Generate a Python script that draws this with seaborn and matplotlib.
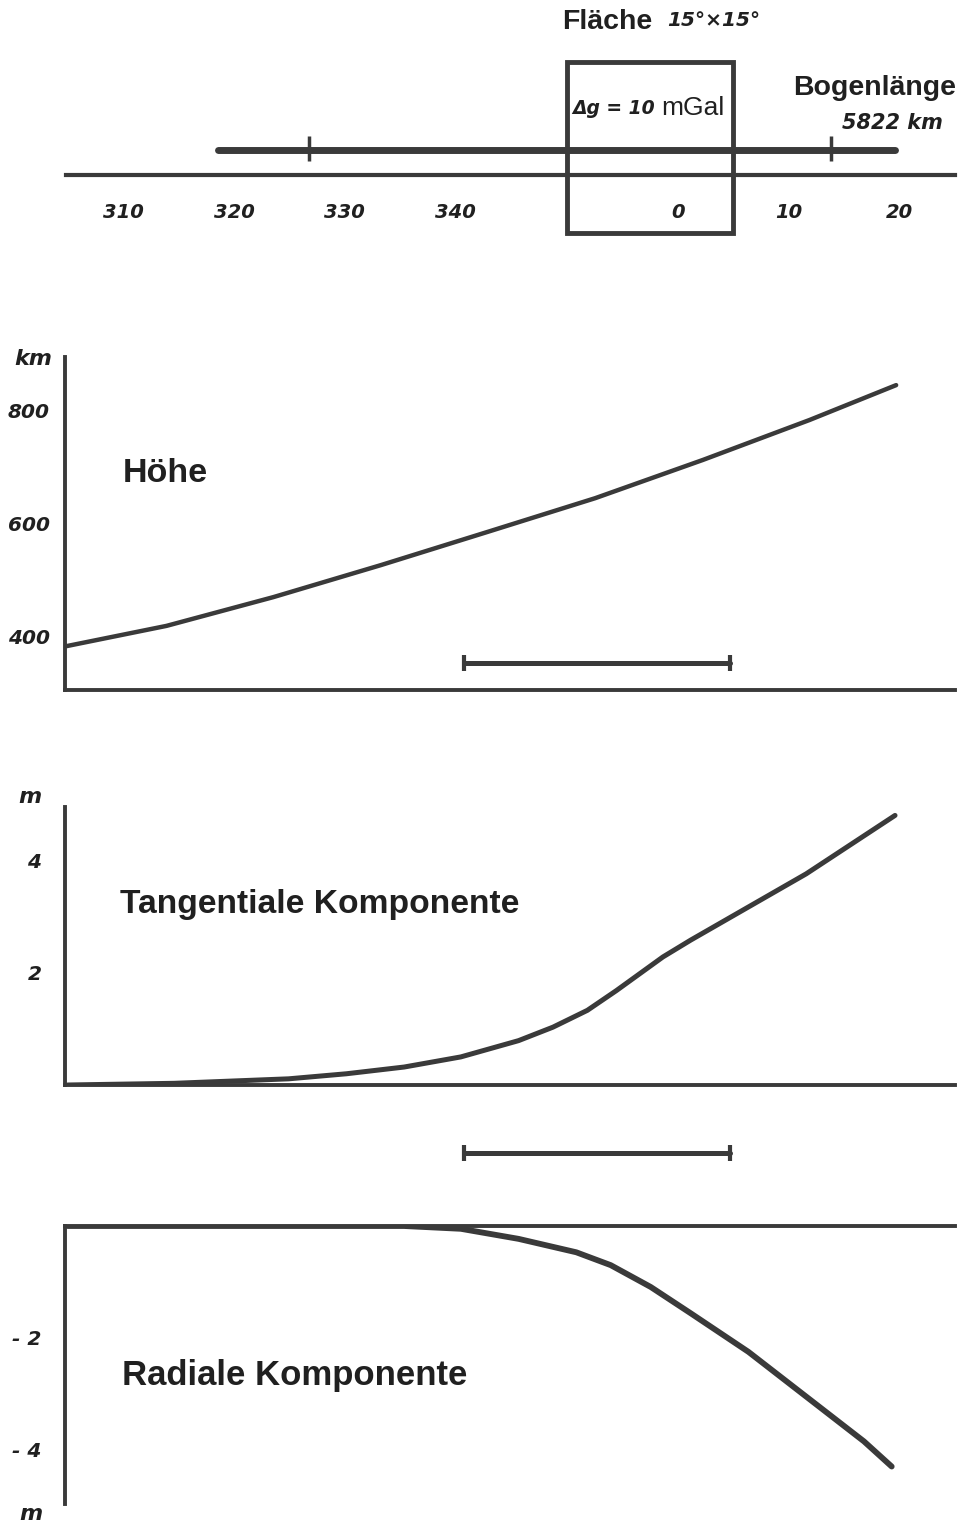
import matplotlib
matplotlib.use("Agg")
import matplotlib.pyplot as plt
from matplotlib.patches import Rectangle
import seaborn as sns

# ---- data -------------------------------------------------------------
# longitude in degrees, counted on past 360 so that 0..20 E follow 340..359
lon_hoehe = [305.0, 314.0, 323.6, 333.3, 342.9, 352.6, 362.3, 371.9, 379.7]
hoehe_km = [382, 418, 469, 526, 585, 645, 713, 784, 846]

lon_tang = [305.1, 314.7, 325.0, 330.2, 335.4, 340.5, 345.7, 348.8, 351.9,
            354.5, 358.7, 361.2, 366.4, 371.6, 379.6]
tang_m = [0.00, 0.03, 0.11, 0.20, 0.32, 0.50, 0.79, 1.03, 1.33,
          1.68, 2.28, 2.58, 3.17, 3.76, 4.80]

lon_rad = [305.1, 320.0, 335.4, 340.5, 345.7, 350.9, 354.0, 357.6, 361.2,
           366.4, 371.6, 376.8, 379.3]
rad_m = [0.00, 0.00, 0.00, -0.05, -0.23, -0.47, -0.70, -1.09, -1.56,
         -2.25, -3.05, -3.85, -4.30]

lon_ticks = [310, 320, 330, 340, 360, 370, 380]
lon_tick_labels = ["310", "320", "330", "340", "0", "10", "20"]

flaeche_lon = (350, 365)          # 15 deg x 15 deg block, 350 .. 5
bogen_lon = (318.6, 379.6)        # arc of the profile
bogen_marks = [326.8, 373.8]
scale_bar_lon = (340.8, 364.7)

hoehe_ticks = [400, 600, 800]
tang_ticks = [2, 4]
rad_ticks = [-2, -4]
rad_tick_labels = ["- 2", "- 4"]

# ---- style ------------------------------------------------------------
sns.set_style("white")
plt.rcParams["font.family"] = ["DejaVu Sans"]

INK = "#3a3a3a"
TXT = "#202020"
W, H = 965, 1526
XLIM = (304.86, 385.0)

HAND = dict(family="DejaVu Sans", fontweight="bold", fontstyle="italic", color=TXT)
SANS = dict(family="Liberation Sans", fontweight="bold", color=TXT)

fig = plt.figure(figsize=(W / 100, H / 100), dpi=100)
fig.patch.set_facecolor("white")


def px_axes(left, top, right, bottom):
    ax = fig.add_axes([left / W, 1 - bottom / H, (right - left) / W, (bottom - top) / H])
    ax.set_facecolor("none")
    return ax


def px_text(x, y, s, **kw):
    fig.text(x / W, 1 - y / H, s, **kw)


# ---- top strip: longitude axis with the anomalous block ----------------
ax0 = px_axes(66, 0, 955, 250)
ax0.set_xlim(*XLIM)
ax0.set_ylim(250, 0)
for side in ("left", "right", "top"):
    ax0.spines[side].set_visible(False)
ax0.spines["bottom"].set_position(("data", 175))
ax0.spines["bottom"].set_linewidth(3.0)
ax0.spines["bottom"].set_color(INK)
ax0.set_yticks([])
ax0.set_xticks(lon_ticks, lon_tick_labels, fontsize=14, **HAND)
ax0.tick_params(axis="x", direction="out", length=6, width=2.2, color=INK, pad=14)

ax0.add_patch(Rectangle((flaeche_lon[0], 62), flaeche_lon[1] - flaeche_lon[0], 171,
                        fill=False, edgecolor=INK, linewidth=3.5, clip_on=False))
ax0.plot(bogen_lon, [150, 150], color=INK, lw=5, solid_capstyle="round", clip_on=False)
ax0.plot(bogen_marks, [148, 148], ls="", marker="|", ms=18, mew=2.5, color=INK, clip_on=False)

px_text(562, 22, "Fläche", fontsize=20.5, ha="left", va="center", **SANS)
px_text(667, 20, "15°×15°", fontsize=14.5, ha="left", va="center", **HAND)
px_text(572, 108, "Δg = 10", fontsize=13.5, ha="left", va="center", **HAND)
px_text(661, 108, "mGal", fontsize=19, ha="left", va="center",
        family="Liberation Sans", color=TXT)
px_text(793, 88, "Bogenlänge", fontsize=20.5, ha="left", va="center", **SANS)
px_text(842, 123, "5822 km", fontsize=15, ha="left", va="center", **HAND)


def style_panel(ax, ylim, ticks, labels, show, pad):
    ax.set_xlim(*XLIM)
    ax.set_ylim(*ylim)
    for side in ("left", "right", "top", "bottom"):
        ax.spines[side].set_visible(side in show)
        ax.spines[side].set_linewidth(2.8)
        ax.spines[side].set_color(INK)
    ax.set_xticks([])
    ax.set_yticks(ticks, labels, fontsize=14.5, **HAND)
    ax.tick_params(axis="y", direction="out", length=6, width=2, color=INK, pad=pad)
    ax.set_xlabel("")
    ax.set_ylabel("")


# ---- Höhe ----------------------------------------------------------------
ax1 = px_axes(65, 357, 955, 690)
sns.lineplot(x=lon_hoehe, y=hoehe_km, ax=ax1, color=INK, lw=3.2)
style_panel(ax1, (304, 896), hoehe_ticks, [str(t) for t in hoehe_ticks],
            ("left", "bottom"), pad=5)
ax1.plot(scale_bar_lon, [0.08, 0.08], transform=ax1.get_xaxis_transform(), color=INK,
         lw=3.6, marker="|", ms=11, mew=3, clip_on=False)
px_text(33, 359, "km", fontsize=16, ha="center", va="center", **HAND)
px_text(123, 473, "Höhe", fontsize=24.5, ha="left", va="center", **SANS)

# ---- tangentiale Komponente -------------------------------------------
ax2 = px_axes(65, 807, 955, 1085)
sns.lineplot(x=lon_tang, y=tang_m, ax=ax2, color=INK, lw=3.6)
style_panel(ax2, (0, 4.95), tang_ticks, [str(t) for t in tang_ticks],
            ("left", "bottom"), pad=11)
ax2.plot(scale_bar_lon, [-0.245, -0.245], transform=ax2.get_xaxis_transform(), color=INK,
         lw=3.6, marker="|", ms=11, mew=3, clip_on=False)
px_text(30, 797, "m", fontsize=16, ha="center", va="center", **HAND)
px_text(120, 904, "Tangentiale Komponente", fontsize=24.2, ha="left", va="center", **SANS)

# ---- radiale Komponente -------------------------------------------------
ax3 = px_axes(65, 1226, 955, 1504)
sns.lineplot(x=lon_rad, y=rad_m, ax=ax3, color=INK, lw=4.2)
style_panel(ax3, (-4.97, 0), rad_ticks, rad_tick_labels, ("left", "top"), pad=11)
px_text(31, 1514, "m", fontsize=16, ha="center", va="center", **HAND)
px_text(122, 1375, "Radiale Komponente", fontsize=25, ha="left", va="center", **SANS)

fig.savefig("out.png", dpi=100, facecolor="white")
